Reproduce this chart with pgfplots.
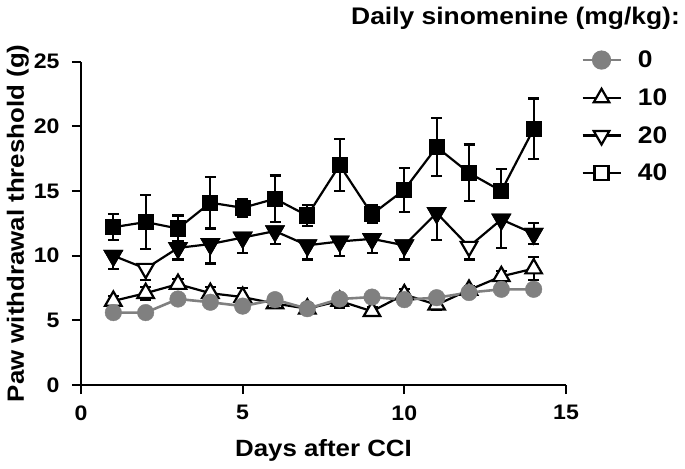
\documentclass[border=0pt]{standalone}
\usepackage{fontspec}
\setmainfont{Liberation Sans}[FakeStretch=1.1]
\usepackage{pgfplots}
\usepackage{pgfplotstable}
\pgfplotsset{compat=1.18}
\definecolor{pgray}{RGB}{128,128,128}

\pgfplotstableread{
x y ep em
1 5.6 0.2 0.2
2 5.6 0.2 0.2
3 6.65 0.2 0.2
4 6.4 0.2 0.2
5 6.1 0.2 0.2
6 6.6 0.2 0.2
7 5.9 0.2 0.2
8 6.65 0.2 0.2
9 6.8 0.2 0.2
10 6.6 0.2 0.2
11 6.75 0.2 0.2
12 7.15 0.2 0.2
13 7.4 0.2 0.2
14 7.4 0.2 0.2
}\szero

\pgfplotstableread{
x y ep em
1 6.5 0.4 0.4
2 7.1 0.5 0.5
3 7.8 0.4 0.4
4 7.1 0.5 0.5
5 6.8 0.7 0.7
6 6.3 0.3 0.3
7 5.9 0.4 0.4
8 6.5 0.55 0.55
9 5.7 0.3 0.3
10 7.0 0.4 0.4
11 6.2 0.4 0.4
12 7.35 0.3 0.3
13 8.4 0.4 0.4
14 9.0 0.9 0.9
}\sten

\pgfplotstableread{
x y ep em
1 10.0 0 1.0
2 9.0 0 0.9
3 10.6 0 0.9
4 10.9 0 1.5
5 11.4 0 1.2
6 11.9 0 1.0
7 10.8 0 1.1
8 11.1 0 1.1
9 11.3 0 1.1
10 10.8 0 1.1
11 13.3 0 2.1
12 10.7 0 1.0
13 12.8 0 2.2
14 11.7 0.8 0.8
}\stwenty

\pgfplotstableread{
x y ep em
1 12.2 1.0 1.0
2 12.6 2.1 2.1
3 12.1 1.0 1.0
4 14.1 2.0 2.0
5 13.7 0.7 0.7
6 14.4 1.8 1.8
7 13.1 0.8 0.8
8 17.0 2.0 2.0
9 13.2 0.7 0.7
10 15.1 1.7 1.7
11 18.4 2.25 2.25
12 16.4 2.2 2.2
13 15.0 1.7 0.4
14 19.8 2.35 2.35
}\sforty

\newcommand{\lw}{2.2bp}

\begin{document}
\begin{tikzpicture}
\begin{axis}[
  scale only axis, width=485bp, height=323.3bp,
  xmin=0, xmax=15, ymin=0, ymax=25,
  axis x line*=bottom, axis y line*=left,
  axis line style={line width=\lw, -},
  xtick={0,5,10,15}, ytick={0,5,10,15,20,25},
  minor tick num=0,
  tick align=outside, major tick length=9bp,
  tick style={line width=\lw, black},
  xticklabel shift=8bp, yticklabel shift=9bp,
  /pgf/number format/assume math mode=true,
  tick label style={font=\fontsize{21bp}{22bp}\selectfont\bfseries},
  label style={font=\fontsize{23.5bp}{24bp}\selectfont\bfseries},
  xlabel={Days after CCI}, ylabel={Paw withdrawal threshold (g)},
  xlabel style={yshift=-12bp}, ylabel style={yshift=-2bp},
  clip=false,
  legend image code/.code={\draw[mark repeat=2,mark phase=2,#1] plot coordinates {(0bp,0bp)(19bp,0bp)(38bp,0bp)};},
  legend style={at={(rel axis cs:1.031,0.83)}, anchor=west, draw=none, fill=none,
    inner sep=0pt, row sep=17.5bp,
    nodes={inner sep=1bp, font=\fontsize{24bp}{25bp}\selectfont\bfseries},
    /tikz/every odd column/.append style={column sep=15bp}},
  legend cell align=left,
  error bars/error bar style={line width=\lw},
  error bars/error mark options={rotate=90, mark size=5.5bp, line width=\lw},
]
% series 10
\addplot[forget plot, black, line width=\lw, mark=none,
  error bars/.cd, y dir=both, y explicit]
  table[x=x, y=y, y error plus=ep, y error minus=em] {\sten};
\addplot[forget plot, only marks, mark=triangle*, mark size=9.5bp,
  mark options={draw=black, fill=white, line width=\lw}]
  table[x=x, y=y] {\sten};
% series 20
\addplot[forget plot, black, line width=\lw, mark=none,
  error bars/.cd, y dir=both, y explicit]
  table[x=x, y=y, y error plus=ep, y error minus=em] {\stwenty};
\addplot[forget plot, only marks, mark=triangle*, mark size=9.5bp,
  mark options={draw=black, fill=white, line width=\lw, rotate=180}]
  table[x=x, y=y] {\stwenty};
\addplot[forget plot, only marks, mark=triangle*, mark size=9.5bp,
  mark options={draw=black, fill=black, line width=\lw, rotate=180},
  skip coords between index={1}{2}, skip coords between index={11}{12}]
  table[x=x, y=y] {\stwenty};
% series 40
\addplot[forget plot, black, line width=\lw, mark=none,
  error bars/.cd, y dir=both, y explicit]
  table[x=x, y=y, y error plus=ep, y error minus=em] {\sforty};
\addplot[forget plot, only marks, mark=square*, mark size=7bp,
  mark options={draw=black, fill=black, line width=\lw}]
  table[x=x, y=y] {\sforty};
% series 0
\addplot[forget plot, pgray, line width=2.6bp, mark=none,
  error bars/.cd, y dir=both, y explicit]
  table[x=x, y=y, y error plus=ep, y error minus=em] {\szero};
\addplot[forget plot, only marks, mark=*, mark size=8.3bp,
  mark options={draw=pgray, fill=pgray}]
  table[x=x, y=y] {\szero};
% legend
\addlegendimage{pgray, line width=2.6bp, mark=*, mark size=8.3bp, mark options={draw=pgray, fill=pgray}}
\addlegendentry{0}
\addlegendimage{black, line width=\lw, mark=triangle*, mark size=9bp, mark options={fill=white}}
\addlegendentry{10}
\addlegendimage{black, line width=\lw, mark=triangle*, mark size=9bp, mark options={fill=white, rotate=180}}
\addlegendentry{20}
\addlegendimage{black, line width=\lw, mark=square*, mark size=7bp, mark options={fill=white}}
\addlegendentry{40}
\end{axis}
\node[anchor=base east, font=\fontsize{24bp}{25bp}\selectfont\bfseries, inner sep=0pt] at (599bp,360bp) {Daily sinomenine (mg/kg):};
\pgfresetboundingbox
\path[use as bounding box] (-81bp,-84bp) rectangle (604bp,385bp);
\end{tikzpicture}
\end{document}
